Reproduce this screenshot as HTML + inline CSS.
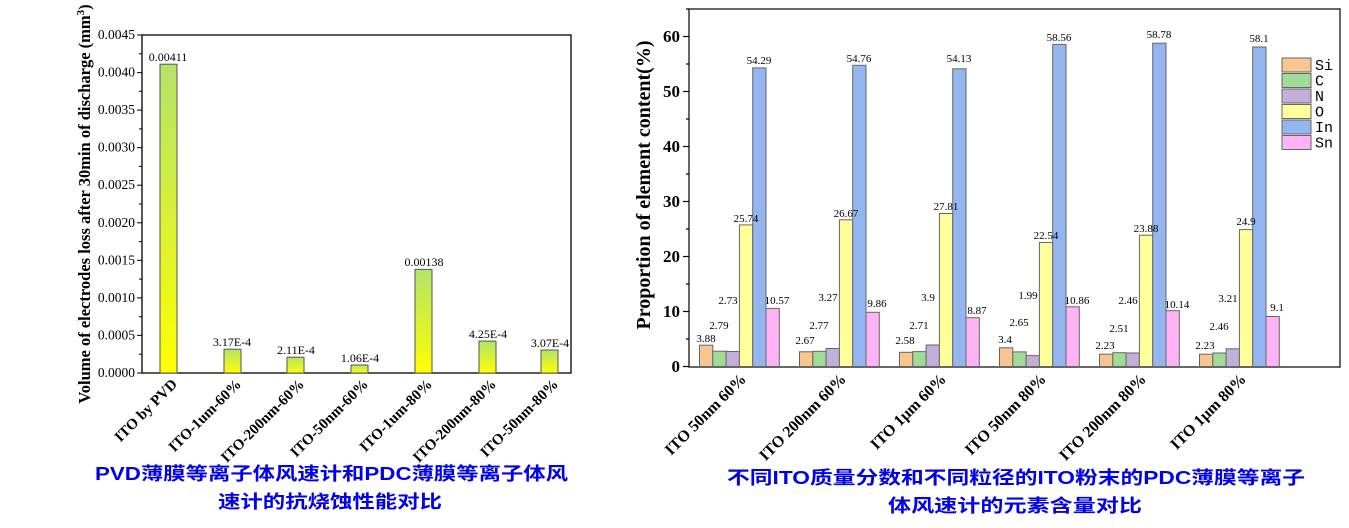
<!DOCTYPE html>
<html><head><meta charset="utf-8"><style>
html,body{margin:0;padding:0;background:#fff;}
svg{display:block;}
</style></head><body>
<svg width="1349" height="528" viewBox="0 0 1349 528" xmlns="http://www.w3.org/2000/svg" font-family="'Liberation Serif', serif">
<defs>
<linearGradient id="g" x1="0" y1="0" x2="0" y2="1">
<stop offset="0" stop-color="#b3e36a"/><stop offset="1" stop-color="#ffff00"/>
</linearGradient>
</defs>
<g id="left">
<rect x="142" y="35" width="429" height="338" fill="none" stroke="#000" stroke-width="1.3"/>
<g stroke="#000" stroke-width="1">
<line x1="137" y1="373" x2="142" y2="373"/><line x1="137" y1="335.4" x2="142" y2="335.4"/><line x1="137" y1="297.9" x2="142" y2="297.9"/><line x1="137" y1="260.3" x2="142" y2="260.3"/><line x1="137" y1="222.8" x2="142" y2="222.8"/><line x1="137" y1="185.2" x2="142" y2="185.2"/><line x1="137" y1="147.7" x2="142" y2="147.7"/><line x1="137" y1="110.1" x2="142" y2="110.1"/><line x1="137" y1="72.6" x2="142" y2="72.6"/><line x1="137" y1="35" x2="142" y2="35"/>
<line x1="139" y1="354.2" x2="142" y2="354.2"/><line x1="139" y1="316.7" x2="142" y2="316.7"/><line x1="139" y1="279.1" x2="142" y2="279.1"/><line x1="139" y1="241.6" x2="142" y2="241.6"/><line x1="139" y1="204" x2="142" y2="204"/><line x1="139" y1="166.4" x2="142" y2="166.4"/><line x1="139" y1="128.9" x2="142" y2="128.9"/><line x1="139" y1="91.3" x2="142" y2="91.3"/><line x1="139" y1="53.8" x2="142" y2="53.8"/>
</g>
<g font-size="13.5" text-anchor="end" fill="#000">
<text x="135" y="377">0.0000</text><text x="135" y="339.4">0.0005</text><text x="135" y="301.9">0.0010</text><text x="135" y="264.3">0.0015</text><text x="135" y="226.8">0.0020</text><text x="135" y="189.2">0.0025</text><text x="135" y="151.7">0.0030</text><text x="135" y="114.1">0.0035</text><text x="135" y="76.6">0.0040</text><text x="135" y="39">0.0045</text>
</g>
<text transform="translate(90,204) rotate(-90)" font-size="16.5" font-weight="bold" text-anchor="middle">Volume of electrodes loss after 30min of discharge (mm<tspan dy="-6" font-size="11">3</tspan><tspan dy="6">)</tspan></text>
<g fill="url(#g)" stroke="#555" stroke-width="1">
<rect x="160" y="64.2" width="17" height="308.8"/>
<rect x="224" y="349.2" width="17" height="23.8"/>
<rect x="287" y="357.2" width="17" height="15.8"/>
<rect x="351" y="365" width="17" height="8"/>
<rect x="415" y="269.4" width="17" height="103.6"/>
<rect x="479" y="341.1" width="17" height="31.9"/>
<rect x="541" y="350" width="17" height="23"/>
</g>
<g font-size="12" text-anchor="middle">
<text x="168" y="61">0.00411</text><text x="232" y="346">3.17E-4</text><text x="296" y="354">2.11E-4</text><text x="360" y="362">1.06E-4</text><text x="424" y="266">0.00138</text><text x="488" y="338">4.25E-4</text><text x="550" y="347">3.07E-4</text>
</g>
<g font-size="15" font-weight="bold" text-anchor="end">
<text transform="translate(178,385) rotate(-45)">ITO by PVD</text>
<text transform="translate(242,385) rotate(-45)">ITO-1um-60%</text>
<text transform="translate(305,385) rotate(-45)">ITO-200nm-60%</text>
<text transform="translate(369,385) rotate(-45)">ITO-50nm-60%</text>
<text transform="translate(433,385) rotate(-45)">ITO-1um-80%</text>
<text transform="translate(497,385) rotate(-45)">ITO-200nm-80%</text>
<text transform="translate(559,385) rotate(-45)">ITO-50nm-80%</text>
</g>
</g>
<g id="right">
<rect x="689" y="9" width="651" height="358" fill="none" stroke="#333" stroke-width="1.5"/>
<g stroke="#000" stroke-width="1.2">
<line x1="683" y1="366.5" x2="689" y2="366.5"/><line x1="683" y1="311.5" x2="689" y2="311.5"/><line x1="683" y1="256.5" x2="689" y2="256.5"/><line x1="683" y1="201.5" x2="689" y2="201.5"/><line x1="683" y1="146.5" x2="689" y2="146.5"/><line x1="683" y1="91.5" x2="689" y2="91.5"/><line x1="683" y1="36.5" x2="689" y2="36.5"/>
<line x1="686" y1="339" x2="689" y2="339"/><line x1="686" y1="284" x2="689" y2="284"/><line x1="686" y1="229" x2="689" y2="229"/><line x1="686" y1="174" x2="689" y2="174"/><line x1="686" y1="119" x2="689" y2="119"/><line x1="686" y1="64" x2="689" y2="64"/><line x1="686" y1="9" x2="689" y2="9"/>
</g>
<g font-size="17" font-weight="bold" text-anchor="end">
<text x="680" y="372">0</text><text x="680" y="317">10</text><text x="680" y="262">20</text><text x="680" y="207">30</text><text x="680" y="152">40</text><text x="680" y="97">50</text><text x="680" y="42">60</text>
</g>
<text transform="translate(650,185) rotate(-90)" font-size="20" font-weight="bold" text-anchor="middle">Proportion of element content(%)</text>
<g stroke="#666" stroke-width="1">
<rect x="699.5" y="345.2" width="13.3" height="21.3" fill="#f9c690"/>
<rect x="712.8" y="351.2" width="13.3" height="15.3" fill="#a0dc98"/>
<rect x="726.1" y="351.5" width="13.3" height="15" fill="#c2b0d8"/>
<rect x="739.4" y="224.9" width="13.3" height="141.6" fill="#ffff99"/>
<rect x="752.7" y="67.9" width="13.3" height="298.6" fill="#94b6f0"/>
<rect x="766" y="308.4" width="13.3" height="58.1" fill="#ffb3f5"/>
<rect x="799.5" y="351.8" width="13.3" height="14.7" fill="#f9c690"/>
<rect x="812.8" y="351.3" width="13.3" height="15.2" fill="#a0dc98"/>
<rect x="826.1" y="348.5" width="13.3" height="18" fill="#c2b0d8"/>
<rect x="839.4" y="219.8" width="13.3" height="146.7" fill="#ffff99"/>
<rect x="852.7" y="65.3" width="13.3" height="301.2" fill="#94b6f0"/>
<rect x="866" y="312.3" width="13.3" height="54.2" fill="#ffb3f5"/>
<rect x="899.5" y="352.3" width="13.3" height="14.2" fill="#f9c690"/>
<rect x="912.8" y="351.6" width="13.3" height="14.9" fill="#a0dc98"/>
<rect x="926.1" y="345" width="13.3" height="21.5" fill="#c2b0d8"/>
<rect x="939.4" y="213.5" width="13.3" height="153" fill="#ffff99"/>
<rect x="952.7" y="68.8" width="13.3" height="297.7" fill="#94b6f0"/>
<rect x="966" y="317.7" width="13.3" height="48.8" fill="#ffb3f5"/>
<rect x="999.5" y="347.8" width="13.3" height="18.7" fill="#f9c690"/>
<rect x="1012.8" y="351.9" width="13.3" height="14.6" fill="#a0dc98"/>
<rect x="1026.1" y="355.6" width="13.3" height="10.9" fill="#c2b0d8"/>
<rect x="1039.4" y="242.5" width="13.3" height="124" fill="#ffff99"/>
<rect x="1052.7" y="44.4" width="13.3" height="322.1" fill="#94b6f0"/>
<rect x="1066" y="306.8" width="13.3" height="59.7" fill="#ffb3f5"/>
<rect x="1099.5" y="354.2" width="13.3" height="12.3" fill="#f9c690"/>
<rect x="1112.8" y="352.7" width="13.3" height="13.8" fill="#a0dc98"/>
<rect x="1126.1" y="353" width="13.3" height="13.5" fill="#c2b0d8"/>
<rect x="1139.4" y="235.2" width="13.3" height="131.3" fill="#ffff99"/>
<rect x="1152.7" y="43.2" width="13.3" height="323.3" fill="#94b6f0"/>
<rect x="1166" y="310.7" width="13.3" height="55.8" fill="#ffb3f5"/>
<rect x="1199.5" y="354.2" width="13.3" height="12.3" fill="#f9c690"/>
<rect x="1212.8" y="353" width="13.3" height="13.5" fill="#a0dc98"/>
<rect x="1226.1" y="348.8" width="13.3" height="17.7" fill="#c2b0d8"/>
<rect x="1239.4" y="229.6" width="13.3" height="136.9" fill="#ffff99"/>
<rect x="1252.7" y="47" width="13.3" height="319.5" fill="#94b6f0"/>
<rect x="1266" y="316.5" width="13.3" height="50" fill="#ffb3f5"/>
</g>
<g font-size="11" text-anchor="middle">
<text x="706" y="342">3.88</text><text x="719" y="329">2.79</text><text x="728" y="304">2.73</text><text x="746" y="222">25.74</text><text x="759" y="64">54.29</text><text x="777" y="304">10.57</text>
<text x="805" y="344">2.67</text><text x="819" y="329">2.77</text><text x="828" y="301">3.27</text><text x="846" y="217">26.67</text><text x="859" y="62">54.76</text><text x="877" y="307">9.86</text>
<text x="905" y="344">2.58</text><text x="919" y="329">2.71</text><text x="928" y="301">3.9</text><text x="946" y="210">27.81</text><text x="959" y="62">54.13</text><text x="977" y="314">8.87</text>
<text x="1005" y="343">3.4</text><text x="1019" y="326">2.65</text><text x="1028" y="299">1.99</text><text x="1046" y="239">22.54</text><text x="1059" y="41">58.56</text><text x="1077" y="304">10.86</text>
<text x="1105" y="349">2.23</text><text x="1119" y="332">2.51</text><text x="1128" y="304">2.46</text><text x="1146" y="232">23.88</text><text x="1159" y="38">58.78</text><text x="1177" y="308">10.14</text>
<text x="1205" y="349">2.23</text><text x="1219" y="330">2.46</text><text x="1228" y="302">3.21</text><text x="1246" y="225">24.9</text><text x="1259" y="42">58.1</text><text x="1277" y="311">9.1</text>
</g>
<g stroke="#666" stroke-width="1">
<rect x="1282" y="58" width="29" height="14" fill="#f9c690"/>
<rect x="1282" y="73.5" width="29" height="14" fill="#a0dc98"/>
<rect x="1282" y="89" width="29" height="14" fill="#c2b0d8"/>
<rect x="1282" y="104.5" width="29" height="14" fill="#ffff99"/>
<rect x="1282" y="120" width="29" height="14" fill="#94b6f0"/>
<rect x="1282" y="135.5" width="29" height="14" fill="#ffb3f5"/>
</g>
<g font-size="15" font-family="'Liberation Mono', monospace">
<text x="1315" y="70">Si</text><text x="1315" y="85.5">C</text><text x="1315" y="101">N</text><text x="1315" y="116.5">O</text><text x="1315" y="132">In</text><text x="1315" y="147.5">Sn</text>
</g>
<g font-size="16" font-weight="bold" text-anchor="end">
<text transform="translate(747,380) rotate(-45)">ITO 50nm 60%</text>
<text transform="translate(847,380) rotate(-45)">ITO 200nm 60%</text>
<text transform="translate(947,380) rotate(-45)">ITO 1μm 60%</text>
<text transform="translate(1047,380) rotate(-45)">ITO 50nm 80%</text>
<text transform="translate(1147,380) rotate(-45)">ITO 200nm 80%</text>
<text transform="translate(1247,380) rotate(-45)">ITO 1μm 80%</text>
</g>
</g>
<g fill="#0000ee" font-weight="bold" font-size="18" font-family="'Liberation Sans','Noto Sans CJK SC',sans-serif">
<text x="95" y="480" textLength="473" lengthAdjust="spacingAndGlyphs">PVD薄膜等离子体风速计和PDC薄膜等离子体风</text>
<text x="218" y="508" textLength="224" lengthAdjust="spacingAndGlyphs">速计的抗烧蚀性能对比</text>
<text x="727" y="484" textLength="578" lengthAdjust="spacingAndGlyphs">不同ITO质量分数和不同粒径的ITO粉末的PDC薄膜等离子</text>
<text x="888" y="512" textLength="254" lengthAdjust="spacingAndGlyphs">体风速计的元素含量对比</text>
</g>
</svg>
</body></html>
